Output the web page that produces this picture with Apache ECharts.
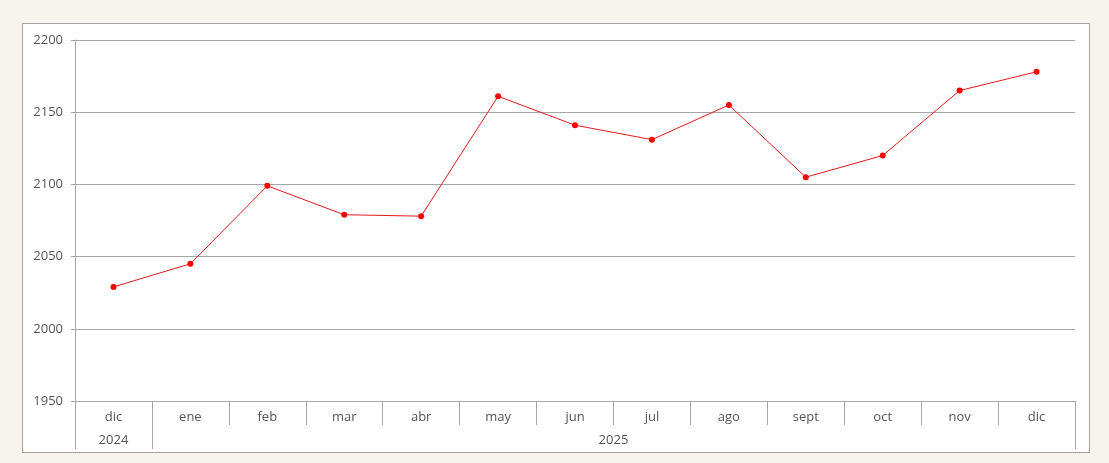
<!DOCTYPE html>
<html><head><meta charset="utf-8">
<script src="https://cdn.jsdelivr.net/npm/echarts@6/dist/echarts.min.js"></script>
<style>
html,body{margin:0;padding:0;background:#f7f4ee;width:1109px;height:463px;overflow:hidden}
#frame{position:absolute;left:22px;top:23px;width:1066px;height:428px;background:#fff;border:1px solid #a3a3a3}
#chart{position:absolute;left:0;top:0;width:1109px;height:463px}
</style></head>
<body>
<div id="frame"></div>
<div id="chart"></div>
<script>
const months = ['dic','ene','feb','mar','abr','may','jun','jul','ago','sept','oct','nov','dic'];
const values = [2029, 2045, 2099, 2079, 2078, 2161, 2141, 2131, 2155, 2105, 2120, 2165, 2178];
const yearLabels = ['2024', '2025'];
const yearPositions = [0.5, 7];
const yearBoundaries = [0, 1, 13];
const yTicks = {min: 1950, max: 2200, interval: 50};

const chart = echarts.init(document.getElementById('chart'), null, {renderer: 'canvas'});
const txt = '#555';
const lineC = '#a6a6a6';
const font = 'Open Sans';
chart.setOption({
  backgroundColor: 'transparent',
  animation: false,
  grid: {left: 75, right: 34, top: 40, bottom: 62},
  xAxis: [{
    type: 'category',
    data: months,
    boundaryGap: true,
    axisLine: {lineStyle: {color: lineC, width: 1}},
    axisTick: {show: true, interval: 0, length: 24, lineStyle: {color: lineC}},
    axisLabel: {interval: 0, color: txt, fontSize: 13, fontFamily: font, margin: 10}
  }, {
    type: 'value',
    min: 0, max: 13,
    position: 'bottom',
    offset: 24,
    axisLine: {show: false},
    splitLine: {show: false},
    axisTick: {show: true, customValues: yearBoundaries, length: 24, lineStyle: {color: lineC}},
    axisLabel: {customValues: yearPositions, color: txt, fontSize: 13, fontFamily: font, margin: 9,
      formatter: function (v) { const i = yearPositions.indexOf(v); return i >= 0 ? yearLabels[i] : ''; }}
  }],
  yAxis: {
    type: 'value',
    min: yTicks.min, max: yTicks.max, interval: yTicks.interval,
    axisLine: {show: true, lineStyle: {color: lineC}},
    axisTick: {show: true, length: 4, lineStyle: {color: lineC}},
    splitLine: {lineStyle: {color: lineC, width: 1}},
    axisLabel: {color: txt, fontSize: 13, fontFamily: font, margin: 12,
      formatter: function (v) { return String(v); }}
  },
  series: [{
    type: 'line',
    data: values,
    xAxisIndex: 0,
    symbol: 'circle',
    symbolSize: 6,
    lineStyle: {color: '#e31a1c', width: 1},
    itemStyle: {color: '#ff0000'}
  }]
});
</script>
</body></html>
